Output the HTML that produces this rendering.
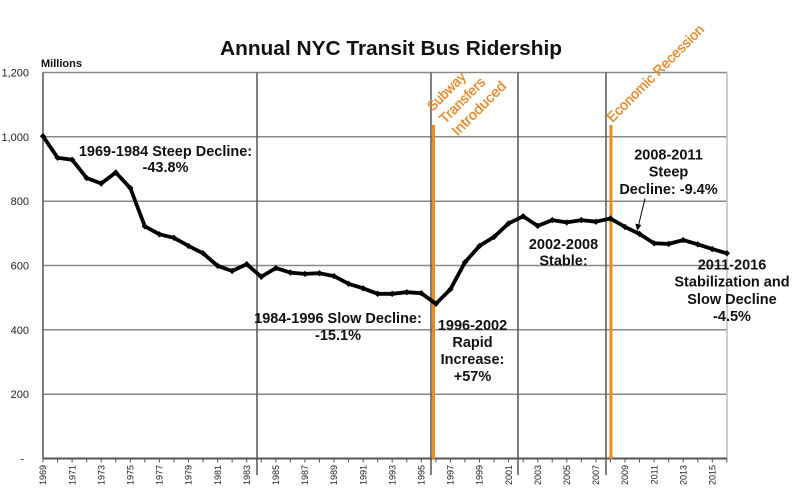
<!DOCTYPE html>
<html><head><meta charset="utf-8"><style>
html,body{margin:0;padding:0;background:#fff;}
svg{display:block;}
text{font-family:"Liberation Sans",Arial,sans-serif;}
.ann{font-size:14.5px;font-weight:bold;fill:#111;text-anchor:middle;}
.yl{font-size:11px;fill:#222;text-anchor:end;}
.xl{font-size:9px;fill:#222;text-anchor:end;}
.or{font-size:14px;fill:#E5892A;stroke:#E5892A;stroke-width:0.35;}
</style></head><body>
<svg width="799" height="496" viewBox="0 0 799 496" xmlns="http://www.w3.org/2000/svg">
<defs><path id="mk" d="M0 -3.2 L3.2 0 L0 3.2 L-3.2 0 Z" fill="#000"/></defs>
<rect width="799" height="496" fill="#fff"/>
<text x="220" y="55" font-size="20" font-weight="bold" fill="#111" textLength="342" lengthAdjust="spacingAndGlyphs">Annual NYC Transit Bus Ridership</text>
<text x="41" y="67" font-size="11" font-weight="bold" fill="#111">Millions</text>
<g stroke="#8a8a8a" stroke-width="1.5">
<line x1="43" y1="72.5" x2="727" y2="72.5"/>
<line x1="43" y1="136.8" x2="727" y2="136.8"/>
<line x1="43" y1="201.2" x2="727" y2="201.2"/>
<line x1="43" y1="265.5" x2="727" y2="265.5"/>
<line x1="43" y1="329.8" x2="727" y2="329.8"/>
<line x1="43" y1="394.2" x2="727" y2="394.2"/>
</g>
<line x1="727" y1="72.5" x2="727" y2="458.5" stroke="#bdbdbd" stroke-width="1.5"/>
<g stroke="#555" stroke-width="1.5">
<line x1="257" y1="72.5" x2="257" y2="475"/>
<line x1="431" y1="72.5" x2="431" y2="475"/>
<line x1="518" y1="72.5" x2="518" y2="475"/>
<line x1="606" y1="72.5" x2="606" y2="475"/>
<line x1="43" y1="72.5" x2="43" y2="459"/>
<line x1="43" y1="458.5" x2="727" y2="458.5" stroke-width="2"/>
</g>
<g stroke="#555" stroke-width="1">
<path d="M43 458.5v4M57.55 458.5v4M72.1 458.5v4M86.65 458.5v4M101.2 458.5v4M115.75 458.5v4M130.3 458.5v4M144.85 458.5v4M159.4 458.5v4M173.95 458.5v4M188.5 458.5v4M203.05 458.5v4M217.6 458.5v4M232.15 458.5v4M246.7 458.5v4M261.25 458.5v4M275.8 458.5v4M290.35 458.5v4M304.9 458.5v4M319.45 458.5v4M334 458.5v4M348.55 458.5v4M363.1 458.5v4M377.65 458.5v4M392.2 458.5v4M406.75 458.5v4M421.3 458.5v4M435.85 458.5v4M450.4 458.5v4M464.95 458.5v4M479.5 458.5v4M494.05 458.5v4M508.6 458.5v4M523.15 458.5v4M537.7 458.5v4M552.25 458.5v4M566.8 458.5v4M581.35 458.5v4M595.9 458.5v4M610.45 458.5v4M625 458.5v4M639.55 458.5v4M654.1 458.5v4M668.65 458.5v4M683.2 458.5v4M697.75 458.5v4M712.3 458.5v4M726.85 458.5v4"/>
</g>
<g class="yl">
<text x="29" y="76.5">1,200</text>
<text x="29" y="140.8">1,000</text>
<text x="29" y="205.2">800</text>
<text x="29" y="269.5">600</text>
<text x="29" y="333.8">400</text>
<text x="29" y="398.2">200</text>
<text x="24" y="462.5">-</text>
</g>
<g class="xl">
<text transform="translate(46.2,465) rotate(-90)">1969</text>
<text transform="translate(75.3,465) rotate(-90)">1971</text>
<text transform="translate(104.4,465) rotate(-90)">1973</text>
<text transform="translate(133.5,465) rotate(-90)">1975</text>
<text transform="translate(162.6,465) rotate(-90)">1977</text>
<text transform="translate(191.7,465) rotate(-90)">1979</text>
<text transform="translate(220.8,465) rotate(-90)">1981</text>
<text transform="translate(249.9,465) rotate(-90)">1983</text>
<text transform="translate(279,465) rotate(-90)">1985</text>
<text transform="translate(308.1,465) rotate(-90)">1987</text>
<text transform="translate(337.2,465) rotate(-90)">1989</text>
<text transform="translate(366.3,465) rotate(-90)">1991</text>
<text transform="translate(395.4,465) rotate(-90)">1993</text>
<text transform="translate(424.5,465) rotate(-90)">1995</text>
<text transform="translate(453.6,465) rotate(-90)">1997</text>
<text transform="translate(482.7,465) rotate(-90)">1999</text>
<text transform="translate(511.8,465) rotate(-90)">2001</text>
<text transform="translate(540.9,465) rotate(-90)">2003</text>
<text transform="translate(570,465) rotate(-90)">2005</text>
<text transform="translate(599.1,465) rotate(-90)">2007</text>
<text transform="translate(628.2,465) rotate(-90)">2009</text>
<text transform="translate(657.3,465) rotate(-90)">2011</text>
<text transform="translate(686.4,465) rotate(-90)">2013</text>
<text transform="translate(715.5,465) rotate(-90)">2015</text>
</g>
<g stroke="#EE8A1E" stroke-width="3">
<line x1="433.5" y1="125" x2="433.5" y2="459"/>
<line x1="611" y1="125" x2="611" y2="459"/>
</g>
<g transform="rotate(-45)" class="or">
<text x="227" y="385" textLength="48" lengthAdjust="spacingAndGlyphs">Subway</text>
<text x="227" y="402.5" textLength="58" lengthAdjust="spacingAndGlyphs">Transfers</text>
<text x="227" y="420" textLength="70" lengthAdjust="spacingAndGlyphs">Introduced</text>
<text x="346" y="520" textLength="131" lengthAdjust="spacingAndGlyphs">Economic Recession</text>
</g>
<polyline fill="none" stroke="#000" stroke-width="3.8" stroke-linejoin="round" stroke-linecap="round" points="43,136.2 57.55,157.7 72.1,159.7 86.65,178 101.2,183.5 115.75,172.5 130.3,188 144.85,226.3 159.4,234.3 173.95,237.8 188.5,245.9 203.05,253.3 217.6,265.8 232.15,271 246.7,264.2 261.25,276.8 275.8,268.1 290.35,272.6 304.9,273.9 319.45,273.2 334,276.1 348.55,283.8 363.1,288.3 377.65,293.8 392.2,293.8 406.75,292.2 421.3,293.2 435.85,303.8 450.4,289.3 464.95,262.3 479.5,245.9 494.05,236.9 508.6,223.4 523.15,216.3 537.7,225.9 552.25,220.1 566.8,222.4 581.35,220.1 595.9,221.7 610.45,218.5 625,226.9 639.55,234 654.1,243.3 668.65,243.9 683.2,240.1 697.75,244.3 712.3,249.1 726.85,253.3"/>
<g>
<use href="#mk" x="43" y="136.2"/><use href="#mk" x="57.55" y="157.7"/><use href="#mk" x="72.1" y="159.7"/><use href="#mk" x="86.65" y="178"/><use href="#mk" x="101.2" y="183.5"/><use href="#mk" x="115.75" y="172.5"/><use href="#mk" x="130.3" y="188"/><use href="#mk" x="144.85" y="226.3"/><use href="#mk" x="159.4" y="234.3"/><use href="#mk" x="173.95" y="237.8"/><use href="#mk" x="188.5" y="245.9"/><use href="#mk" x="203.05" y="253.3"/><use href="#mk" x="217.6" y="265.8"/><use href="#mk" x="232.15" y="271"/><use href="#mk" x="246.7" y="264.2"/><use href="#mk" x="261.25" y="276.8"/><use href="#mk" x="275.8" y="268.1"/><use href="#mk" x="290.35" y="272.6"/><use href="#mk" x="304.9" y="273.9"/><use href="#mk" x="319.45" y="273.2"/><use href="#mk" x="334" y="276.1"/><use href="#mk" x="348.55" y="283.8"/><use href="#mk" x="363.1" y="288.3"/><use href="#mk" x="377.65" y="293.8"/><use href="#mk" x="392.2" y="293.8"/><use href="#mk" x="406.75" y="292.2"/><use href="#mk" x="421.3" y="293.2"/><use href="#mk" x="435.85" y="303.8"/><use href="#mk" x="450.4" y="289.3"/><use href="#mk" x="464.95" y="262.3"/><use href="#mk" x="479.5" y="245.9"/><use href="#mk" x="494.05" y="236.9"/><use href="#mk" x="508.6" y="223.4"/><use href="#mk" x="523.15" y="216.3"/><use href="#mk" x="537.7" y="225.9"/><use href="#mk" x="552.25" y="220.1"/><use href="#mk" x="566.8" y="222.4"/><use href="#mk" x="581.35" y="220.1"/><use href="#mk" x="595.9" y="221.7"/><use href="#mk" x="610.45" y="218.5"/><use href="#mk" x="625" y="226.9"/><use href="#mk" x="639.55" y="234"/><use href="#mk" x="654.1" y="243.3"/><use href="#mk" x="668.65" y="243.9"/><use href="#mk" x="683.2" y="240.1"/><use href="#mk" x="697.75" y="244.3"/><use href="#mk" x="712.3" y="249.1"/><use href="#mk" x="726.85" y="253.3"/>
</g>
<line x1="645" y1="198.5" x2="638.6" y2="225" stroke="#000" stroke-width="1"/>
<path d="M637.3 231 L635.4 223.6 L641.2 225 Z" fill="#000"/>
<g class="ann">
<text x="165.5" y="156">1969-1984 Steep Decline:</text>
<text x="165.5" y="172">-43.8%</text>
<text x="338" y="323">1984-1996 Slow Decline:</text>
<text x="338" y="340">-15.1%</text>
<text x="472.5" y="330">1996-2002</text>
<text x="472.5" y="347">Rapid</text>
<text x="472.5" y="364">Increase:</text>
<text x="472.5" y="381">+57%</text>
<text x="563.5" y="249">2002-2008</text>
<text x="563.5" y="265.5">Stable:</text>
<text x="668.5" y="159.5">2008-2011</text>
<text x="668.5" y="176.5">Steep</text>
<text x="668.5" y="194">Decline: -9.4%</text>
<text x="732" y="269.5">2011-2016</text>
<text x="732" y="286.5">Stabilization and</text>
<text x="732" y="304">Slow Decline</text>
<text x="732" y="321">-4.5%</text>
</g>
</svg>
</body></html>
